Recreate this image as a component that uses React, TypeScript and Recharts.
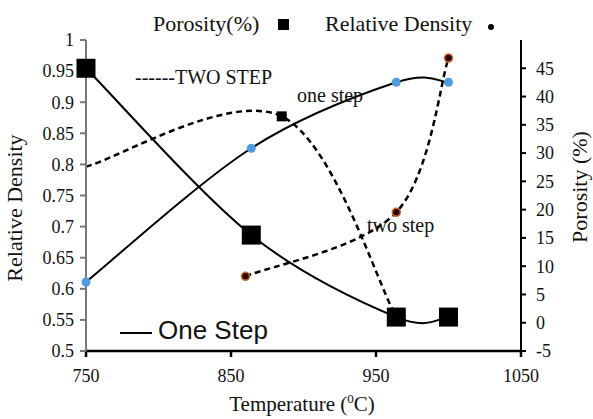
import { LineChart, Line, XAxis, YAxis } from 'recharts'

// temperatures (°C)
const tempOne = [750, 864, 964, 1000]
const tempTwoDensity = [860, 964, 1000]
const tempTwoPorosity = [750, 885, 964]

// relative density
const densityOne = [0.611, 0.826, 0.932, 0.932]
const densityTwo = [0.62, 0.723, 0.971]

// porosity (%)
const porosityOne = [45, 15.5, 1, 1]
const porosityTwo = [27.6, 36.5, 1]

const xTicks = [750, 850, 950, 1050]
const densityTicks = [0.5, 0.55, 0.6, 0.65, 0.7, 0.75, 0.8, 0.85, 0.9, 0.95, 1]
const porosityTicks = [-5, 0, 5, 10, 15, 20, 25, 30, 35, 40, 45]

const zip = (xs: number[], ys: number[]) => xs.map((t, i) => ({ t, v: ys[i] }))

const densityOneData = zip(tempOne, densityOne)
const densityTwoData = zip(tempTwoDensity, densityTwo)
const porosityOneData = zip(tempOne, porosityOne)
const porosityTwoData = zip(tempTwoPorosity, porosityTwo)

// Excel-style smoothed line (Catmull-Rom as bezier)
const smooth = (context: any) => {
  let pts: [number, number][] = []
  return {
    areaStart() {},
    areaEnd() {},
    lineStart() {
      pts = []
    },
    lineEnd() {
      const n = pts.length
      if (!n) return
      context.moveTo(pts[0][0], pts[0][1])
      for (let i = 0; i < n - 1; i++) {
        const p0 = pts[Math.max(0, i - 1)]
        const p1 = pts[i]
        const p2 = pts[i + 1]
        const p3 = pts[Math.min(n - 1, i + 2)]
        context.bezierCurveTo(
          p1[0] + (p2[0] - p0[0]) / 6,
          p1[1] + (p2[1] - p0[1]) / 6,
          p2[0] - (p3[0] - p1[0]) / 6,
          p2[1] - (p3[1] - p1[1]) / 6,
          p2[0],
          p2[1],
        )
      }
    },
    point(x: number, y: number) {
      pts.push([x, y])
    },
  }
}

const serif = '"Liberation Serif", "Times New Roman", serif'
const tick = { fill: '#111', fontSize: 18, fontFamily: serif }

const bigSquare = (p: any) => (
  <rect key={`sq${p.index}`} x={p.cx - 9.5} y={p.cy - 9.5} width={19} height={19} fill="#000" />
)
const smallSquare = (p: any) =>
  p.index === 0 ? (
    <g key={`ss${p.index}`} />
  ) : (
    <rect key={`ss${p.index}`} x={p.cx - 5} y={p.cy - 5} width={10} height={10} fill="#000" />
  )
const blueDot = (p: any) => <circle key={`bd${p.index}`} cx={p.cx} cy={p.cy} r={4.5} fill="#4f9be0" />
const brownDot = (p: any) => (
  <circle key={`br${p.index}`} cx={p.cx} cy={p.cy} r={4} fill="#2a0d00" stroke="#d06a2a" strokeWidth={1.5} />
)

export default function App() {
  return (
    <div style={{ position: 'absolute', left: 0, top: 0, width: 593, height: 419, background: '#fff' }}>
      <LineChart width={593} height={419} margin={{ top: 40, right: 32, bottom: 38, left: 36 }}>
        <XAxis
          dataKey="t"
          type="number"
          domain={[750, 1050]}
          ticks={xTicks}
          allowDuplicatedCategory={false}
          height={30}
          tick={tick}
          tickSize={6}
          tickMargin={12}
          stroke="#000"
          strokeWidth={2.5}
        />
        <YAxis
          yAxisId="d"
          domain={[0.5, 1]}
          ticks={densityTicks}
          width={50}
          tick={tick}
          tickSize={6}
          tickMargin={6}
          stroke="#777"
          strokeWidth={2}
        />
        <YAxis
          yAxisId="p"
          orientation="right"
          domain={[-5, 50]}
          ticks={porosityTicks}
          width={40}
          tick={tick}
          tickSize={5}
          tickMargin={10}
          stroke="#000"
          strokeWidth={2}
        />
        <Line
          yAxisId="p"
          data={porosityTwoData}
          dataKey="v"
          type={smooth as any}
          stroke="#000"
          strokeWidth={2.5}
          strokeDasharray="6 4"
          dot={smallSquare}
          isAnimationActive={false}
        />
        <Line
          yAxisId="d"
          data={densityTwoData}
          dataKey="v"
          type={smooth as any}
          stroke="#000"
          strokeWidth={2.5}
          strokeDasharray="6 4"
          dot={brownDot}
          isAnimationActive={false}
        />
        <Line
          yAxisId="d"
          data={densityOneData}
          dataKey="v"
          type={smooth as any}
          stroke="#000"
          strokeWidth={2}
          dot={blueDot}
          isAnimationActive={false}
        />
        <Line
          yAxisId="p"
          data={porosityOneData}
          dataKey="v"
          type={smooth as any}
          stroke="#000"
          strokeWidth={2}
          dot={bigSquare}
          isAnimationActive={false}
        />
      </LineChart>
      <svg
        width={593}
        height={419}
        style={{ position: 'absolute', left: 0, top: 0, pointerEvents: 'none' }}
        fontFamily={serif}
        fill="#111"
      >
        <text x={153} y={31} fontSize={22}>Porosity(%)</text>
        <rect x={278} y={19} width={11} height={11} fill="#000" />
        <text x={325} y={31} fontSize={22}>Relative Density</text>
        <circle cx={491} cy={27} r={3} fill="#000" />
        <text x={135} y={84} fontSize={20}>------TWO STEP</text>
        <text x={297} y={102} fontSize={20}>one step</text>
        <text x={367} y={232} fontSize={20}>two step</text>
        <line x1={120} y1={333} x2={152} y2={333} stroke="#000" strokeWidth={2} />
        <text x={158} y={339} fontSize={26} fontFamily='"Liberation Sans", Arial, sans-serif' fill="#111">
          One Step
        </text>
        <text x={302} y={411} fontSize={21} textAnchor="middle">
          Temperature (<tspan fontSize={13} dy={-8}>0</tspan>
          <tspan dy={8}>C)</tspan>
        </text>
        <text x={22} y={208} fontSize={22} textAnchor="middle" transform="rotate(-90 22 208)">
          Relative Density
        </text>
        <text x={587} y={187} fontSize={22} textAnchor="middle" transform="rotate(-90 587 187)">
          Porosity (%)
        </text>
      </svg>
    </div>
  )
}
